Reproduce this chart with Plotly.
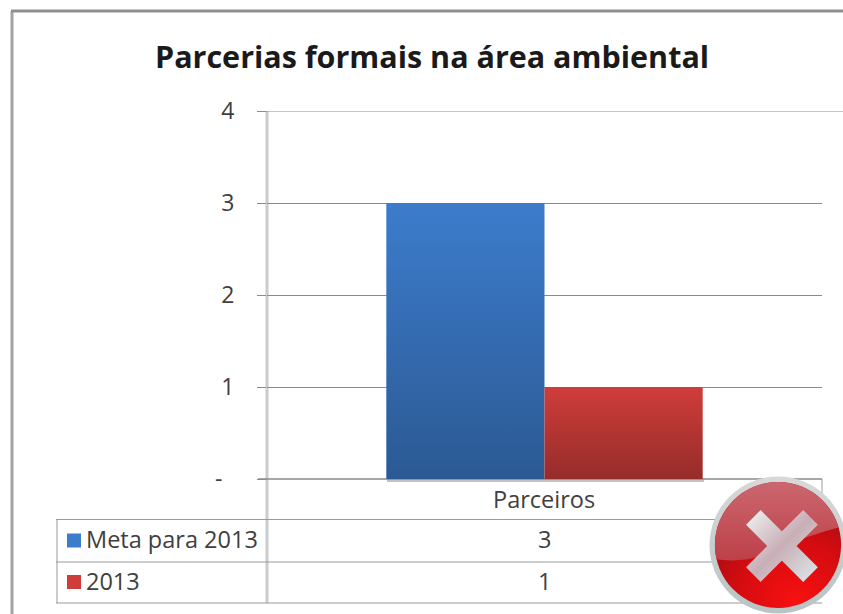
import base64
import plotly.graph_objects as go

TITLE = "Parcerias formais na área ambiental"
categories = ["Parceiros"]
series_names = ["Meta para 2013", "2013"]
meta_2013 = [3]
real_2013 = [1]
tick_values = [0, 1, 2, 3, 4]
tick_labels = ["-\u00a0\u00a0", "1", "2", "3", "4"]
COLORS = ["#3c7ccc", "#cf3d3a"]

W, H = 843, 614
L, R, T, B = 267, 822, 111, 479
FONT = "Open Sans, Noto Sans, sans-serif"
BARGAP = 0.43


def px(x):
    return x / W


def py(y):
    return 1 - y / H


def uri(svg):
    return "data:image/svg+xml;base64," + base64.b64encode(svg.encode()).decode()


shade = uri('<svg xmlns="http://www.w3.org/2000/svg" width="10" height="100" preserveAspectRatio="none">'
            '<defs><linearGradient id="g" x1="0" y1="0" x2="0" y2="1">'
            '<stop offset="0" stop-color="#000" stop-opacity="0"/>'
            '<stop offset="1" stop-color="#000" stop-opacity="0.28"/></linearGradient></defs>'
            '<rect width="10" height="100" fill="url(#g)"/></svg>')

icon = uri('''<svg xmlns="http://www.w3.org/2000/svg" viewBox="0 0 140 140" width="280" height="280">
<defs>
<linearGradient id="rim" x1="0" y1="0" x2="0" y2="1"><stop offset="0" stop-color="#d8d8d8"/><stop offset="1" stop-color="#b8c4c4"/></linearGradient>
<radialGradient id="ball" cx="0.65" cy="0.95" r="0.8"><stop offset="0" stop-color="#f81010"/><stop offset="0.6" stop-color="#d40c10"/><stop offset="1" stop-color="#a80c14"/></radialGradient>
<linearGradient id="gloss" x1="0" y1="0" x2="0" y2="1"><stop offset="0" stop-color="#cc6a72"/><stop offset="1" stop-color="#be4048"/></linearGradient>
<linearGradient id="x" gradientUnits="userSpaceOnUse" x1="38" y1="35" x2="110" y2="107"><stop offset="0" stop-color="#f0f4f4"/><stop offset="0.5" stop-color="#c8aeb6"/><stop offset="1" stop-color="#dceaea"/></linearGradient>
<clipPath id="c"><circle cx="70" cy="70" r="64"/></clipPath>
</defs>
<circle cx="70" cy="70" r="69.5" fill="url(#rim)"/>
<circle cx="70" cy="70" r="64" fill="url(#ball)"/>
<path clip-path="url(#c)" d="M0 0 H140 V50 Q100 60 70 74 Q40 90 4 84 Z" fill="url(#gloss)"/>
<path d="M45 42 L103 100 M103 42 L45 100" fill="none" stroke="url(#x)" stroke-width="21"/>
</svg>''')

fig = go.Figure()
for name, vals, col in zip(series_names, [meta_2013, real_2013], COLORS):
    fig.add_bar(x=categories, y=vals, name=name, marker=dict(color=col, line_width=0))

bar_w = (1 - BARGAP) / 2
images = []
for i, vals in enumerate([meta_2013, real_2013]):
    images.append(dict(source=shade, xref="x", yref="y", x=-bar_w + i * bar_w, y=vals[0],
                       sizex=bar_w, sizey=vals[0], sizing="stretch", xanchor="left",
                       yanchor="top", layer="above"))
images.append(dict(source=icon, xref="paper", yref="paper", x=px(709), y=py(476),
                   sizex=px(138), sizey=138 / H, sizing="stretch", xanchor="left",
                   yanchor="top", layer="above"))

GRAY = "#9a9a9a"


def line(x0, y0, x1, y1, color=GRAY, width=1):
    return dict(type="line", xref="paper", yref="paper", x0=px(x0), x1=px(x1), y0=py(y0), y1=py(y1),
                line=dict(color=color, width=width), layer="below")


shapes = [
    dict(type="rect", xref="paper", yref="paper", x0=px(387), x1=px(704), y0=py(479), y1=py(482),
         fillcolor="rgba(120,120,120,0.45)", line_width=0, layer="below"),
    line(12, 11, 12, 614, "#a3a3a3", 3),
    line(11, 11, 843, 11, "#8f8f8f", 3),
    line(267, 111, 267, 603, "#cccccc", 3),
    line(57, 519, 57, 603, "#cccccc", 2),
    line(822, 479, 822, 519),
    line(56, 519.5, 822, 519.5),
    line(56, 562, 822, 562),
    line(56, 603, 822, 603),
    line(258, 479, 822, 479, "#8a8a8a", 1.5),
    dict(type="line", xref="paper", yref="y", x0=px(258), x1=1, y0=tick_values[-1], y1=tick_values[-1],
         line=dict(color="#8a8a8a", width=1), layer="below"),
]
for yy, col in zip([540.5, 582], COLORS):
    shapes.append(dict(type="rect", xref="paper", yref="paper", x0=px(67), x1=px(81),
                       y0=py(yy - 7), y1=py(yy + 7), fillcolor=col, line_width=0, layer="above"))


def text(x, y, s, size=23.5, anchor="center", color="#404040"):
    return dict(xref="paper", yref="paper", x=px(x), y=py(y), text=s, showarrow=False,
                xanchor=anchor, yanchor="middle", font=dict(family=FONT, size=size, color=color))


annotations = [
    text(432, 56, f"<b>{TITLE}</b>", 30.5, "center", "#1a1a1a"),
    text(544, 499, categories[0]),
    text(84, 539, series_names[0], anchor="left"),
    text(84, 581, series_names[1], anchor="left"),
    text(544, 539, str(meta_2013[0])),
    text(544, 581, str(real_2013[0])),
]

fig.update_layout(
    width=W, height=H, autosize=False, showlegend=False, template="none",
    margin=dict(l=0, r=0, t=0, b=0),
    paper_bgcolor="white", plot_bgcolor="white",
    barmode="group", bargap=BARGAP, bargroupgap=0,
    xaxis=dict(domain=[px(L), px(R)], showticklabels=False, showgrid=False, zeroline=False,
               ticks="", showline=False, range=[-0.5, 0.5], automargin=False),
    yaxis=dict(domain=[py(B), py(T)], range=[0, 4], tickvals=tick_values, ticktext=tick_labels,
               showgrid=True, gridcolor="#8a8a8a", gridwidth=1, zeroline=False, showline=False,
               ticks="outside", ticklen=9, tickcolor="#8a8a8a", automargin=False,
               ticklabelstandoff=18,
               tickfont=dict(family=FONT, size=23, color="#404040")),
    shapes=shapes, annotations=annotations, images=images,
)
fig.write_html("out.html", config=dict(displayModeBar=False),
               post_script="document.body.style.margin='0';document.body.style.overflow='hidden';")
